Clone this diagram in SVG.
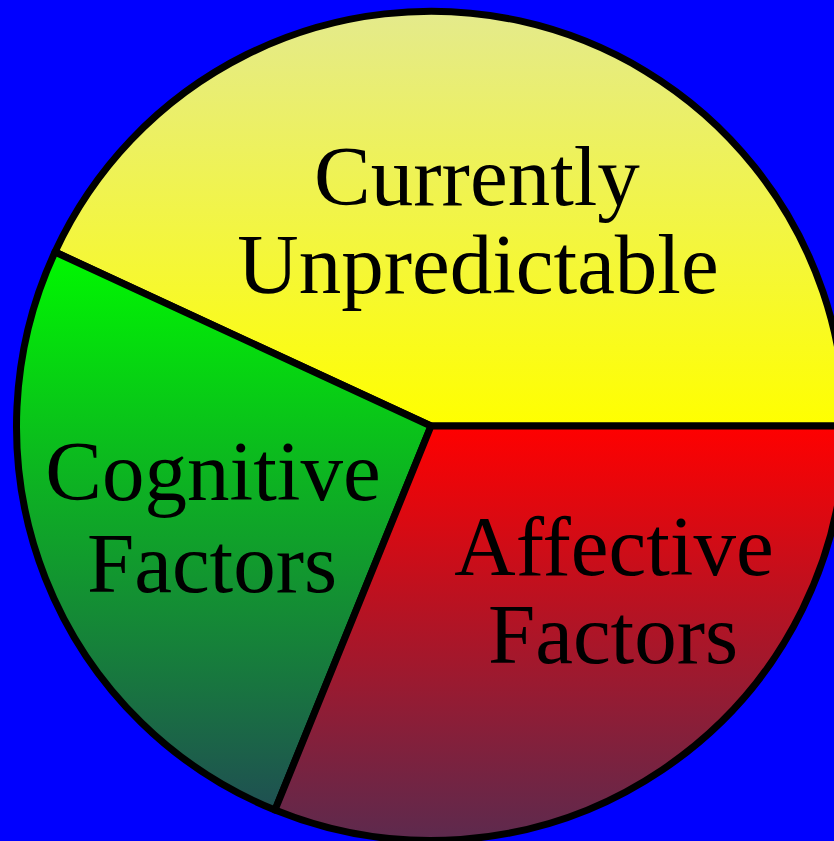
<svg xmlns="http://www.w3.org/2000/svg" width="834" height="841" viewBox="0 0 834 841">
<style>
.s{stroke:#000;stroke-width:7;stroke-linejoin:round}
.t{font-family:"Liberation Serif","Times New Roman",serif;font-size:85px;fill:#000;text-anchor:middle}
</style>
<defs>
<linearGradient id="gy" gradientUnits="userSpaceOnUse" x1="0" y1="12" x2="0" y2="426"><stop offset="0" stop-color="#e4ea8c"/><stop offset="1" stop-color="#ffff00"/></linearGradient>
<linearGradient id="gg" gradientUnits="userSpaceOnUse" x1="0" y1="252" x2="0" y2="810"><stop offset="0" stop-color="#00f800"/><stop offset="1" stop-color="#1f4f52"/></linearGradient>
<linearGradient id="gr" gradientUnits="userSpaceOnUse" x1="0" y1="426" x2="0" y2="840"><stop offset="0" stop-color="#ff0000"/><stop offset="1" stop-color="#5c2a4e"/></linearGradient>
</defs>
<rect width="834" height="841" fill="#0000ff"/>
<g id="yellow"><path class="s" fill="url(#gy)" d="M431 426 L845 426 A414 414 0 0 0 55 252 Z"/></g>
<g id="green"><path class="s" fill="url(#gg)" d="M431 426 L55 252 A414 414 0 0 0 275 810 Z"/></g>
<g id="red"><path class="s" fill="url(#gr)" d="M431 426 L275 810 A414 414 0 0 0 845 426 Z"/></g>
<g id="labels">
<text class="t" x="477" y="205">Currently</text>
<text class="t" x="478" y="293">Unpredictable</text>
<text class="t" x="213" y="500">Cognitive</text>
<text class="t" x="212" y="592">Factors</text>
<text class="t" x="614" y="575">Affective</text>
<text class="t" x="613" y="663">Factors</text>
</g>
</svg>
